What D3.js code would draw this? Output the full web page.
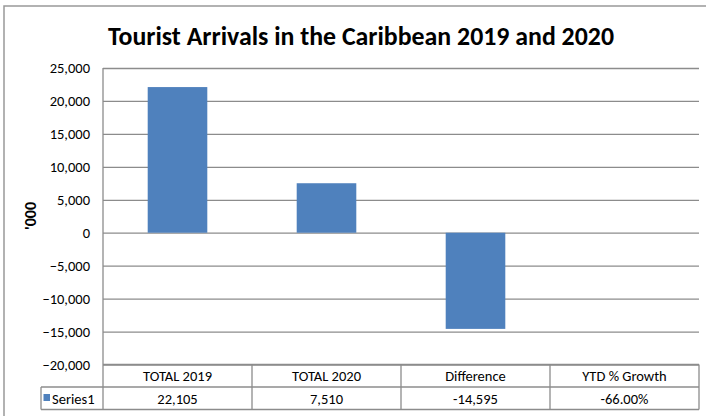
<!DOCTYPE html>
<html>
<head>
<meta charset="utf-8">
<script src="https://cdn.jsdelivr.net/npm/d3@7"></script>
<style>
  body { margin:0; background:#fff; }
  text { font-family: Carlito, Calibri, "Liberation Sans Narrow", Roboto, sans-serif; fill:#000; }
</style>
</head>
<body>
<div id="chart"></div>
<script>
// data
var categories = ["TOTAL 2019", "TOTAL 2020", "Difference", "YTD % Growth"];
var values = [22105, 7510, -14595, -0.66];
var valueLabels = ["22,105", "7,510", "-14,595", "-66.00%"];
var yTicks = [-20000, -15000, -10000, -5000, 0, 5000, 10000, 15000, 20000, 25000];
var seriesName = "Series1";

var W = 706, H = 416;
var plot = {left:103, right:699, top:68, bottom:364.5};
var rowH = 22.5;
var gridColor = "#8c8c8c";
var barColor = "#4f81bd";
var fs = 14.5;

var svg = d3.select('#chart').append('svg')
    .attr('width', W).attr('height', H);

// chart border
svg.append('rect')
    .attr('x', 4).attr('y', 6)
    .attr('width', W + 10).attr('height', H + 10)
    .attr('fill', 'none').attr('stroke', '#999').attr('stroke-width', 1.5);

// title
svg.append('text')
    .attr('x', 361).attr('y', 45)
    .attr('text-anchor', 'middle')
    .attr('font-size', 26).attr('font-weight', 'bold')
    .attr('textLength', 506).attr('lengthAdjust', 'spacingAndGlyphs')
    .text('Tourist Arrivals in the Caribbean 2019 and 2020');

var x = d3.scaleBand().domain(categories)
    .range([plot.left, plot.right]).paddingInner(0).paddingOuter(0);
var y = d3.scaleLinear().domain([-20000, 25000]).range([plot.bottom, plot.top]);

// y axis with gridlines
var yAxis = d3.axisLeft(y)
    .tickValues(yTicks)
    .tickFormat(d3.format(','))
    .tickSize(-(plot.right - plot.left))
    .tickPadding(13);

var gy = svg.append('g')
    .attr('transform', 'translate(' + plot.left + ',0)')
    .call(yAxis);
gy.select('.domain').remove();
gy.selectAll('line').attr('stroke', gridColor).attr('stroke-width', 1.3);
gy.selectAll('text').attr('font-size', fs).attr('fill', '#000');

// axis title
svg.append('text')
    .attr('transform', 'translate(36,216) rotate(-90)')
    .attr('text-anchor', 'middle')
    .attr('font-size', 16).attr('font-weight', 'bold')
    .text("'000");

// bars
var bw = x.bandwidth() * 0.4;
svg.selectAll('rect.bar')
    .data(values)
    .enter()
    .append('rect')
    .attr('class', 'bar')
    .attr('x', function(d, i) { return x(categories[i]) + (x.bandwidth() - bw) / 2; })
    .attr('y', function(d) { return y(Math.max(0, d)); })
    .attr('width', bw)
    .attr('height', function(d) { return Math.abs(y(d) - y(0)); })
    .attr('fill', barColor);

// data table
var tb = svg.append('g');
var tTop = plot.bottom, tMid = plot.bottom + rowH, tBot = plot.bottom + 2 * rowH;

function hline(x1, x2, yy) {
  tb.append('line').attr('x1', x1).attr('x2', x2).attr('y1', yy).attr('y2', yy)
    .attr('stroke', gridColor).attr('stroke-width', 1.3);
}
function vline(xx, y1, y2) {
  tb.append('line').attr('x1', xx).attr('x2', xx).attr('y1', y1).attr('y2', y2)
    .attr('stroke', gridColor).attr('stroke-width', 1.3);
}

// left axis line through table
vline(plot.left, plot.top, tBot);
hline(plot.left, plot.right, tTop);
hline(41, plot.right, tMid);
hline(41, plot.right, tBot);
vline(41, tMid, tBot);
categories.forEach(function(c) {
  vline(x(c) + x.bandwidth(), tTop, tBot);
});

tb.selectAll('text.cat')
    .data(categories)
    .enter()
    .append('text')
    .attr('class', 'cat')
    .attr('x', function(d) { return x(d) + x.bandwidth() / 2; })
    .attr('y', tTop + 16.5)
    .attr('text-anchor', 'middle')
    .attr('font-size', fs)
    .text(function(d) { return d; });

tb.selectAll('text.val')
    .data(valueLabels)
    .enter()
    .append('text')
    .attr('class', 'val')
    .attr('x', function(d, i) { return x(categories[i]) + x.bandwidth() / 2; })
    .attr('y', tMid + 16.5)
    .attr('text-anchor', 'middle')
    .attr('font-size', fs)
    .text(function(d) { return d; });

// legend key
tb.append('rect')
    .attr('x', 43.5).attr('y', tMid + 7)
    .attr('width', 6.5).attr('height', 7)
    .attr('fill', barColor);
tb.append('text')
    .attr('x', 52).attr('y', tMid + 16.5)
    .attr('font-size', fs)
    .text(seriesName);
</script>
</body>
</html>
